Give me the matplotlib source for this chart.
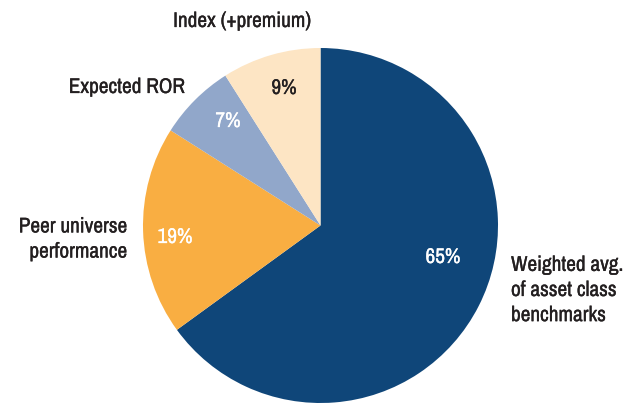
import matplotlib
matplotlib.use("Agg")
import matplotlib.pyplot as plt
import matplotlib.patheffects as pe

categories = ["Weighted avg.\nof asset class\nbenchmarks", "Peer universe\nperformance",
              "Expected ROR", "Index (+premium)"]
values = [65, 19, 7, 9]
pct_labels = ["65%", "19%", "7%", "9%"]
colors = ["#0F4679", "#F9AE42", "#91A7CA", "#FDE5C4"]

fam = ["Archivo Narrow", "DejaVu Sans"]
W, H = 637, 406
fig = plt.figure(figsize=(W / 100, H / 100), dpi=100)
cx, cy, R = 320.5, 226.5, 177.5
ax = fig.add_axes([(cx - R) / W, (H - cy - R) / H, 2 * R / W, 2 * R / H])
ax.pie(values, colors=colors, startangle=90, counterclock=False, radius=1,
       wedgeprops=dict(linewidth=0))
ax.set_xlim(-1, 1)
ax.set_ylim(-1, 1)
ax.set_aspect("auto")
ax.axis("off")

def d(px, py):
    return (px - cx) / R, (cy - py) / R

def style(color):
    return dict(family=fam, fontsize=15.3, color=color, fontweight="medium",
                path_effects=[pe.withStroke(linewidth=0.2, foreground=color)])

dark = "#231F20"
# category labels
ax.text(*d(511, 291), categories[0], ha="left", va="center", linespacing=1.32, clip_on=False, **style(dark))
ax.text(*d(127, 240), categories[1], ha="right", va="center", linespacing=1.32, clip_on=False, **style(dark))
ax.text(*d(185, 88), categories[2], ha="right", va="center", clip_on=False, **style(dark))
ax.text(*d(242, 22), categories[3], ha="center", va="center", clip_on=False, **style(dark))
# percent labels
pct_pos = [(443, 258), (175, 238), (228, 122), (284, 89)]
pct_col = ["white", "white", "white", dark]
for lab, (px, py), c in zip(pct_labels, pct_pos, pct_col):
    ax.text(*d(px, py), lab, ha="center", va="center", **style(c))

fig.savefig("out.png", dpi=100)
